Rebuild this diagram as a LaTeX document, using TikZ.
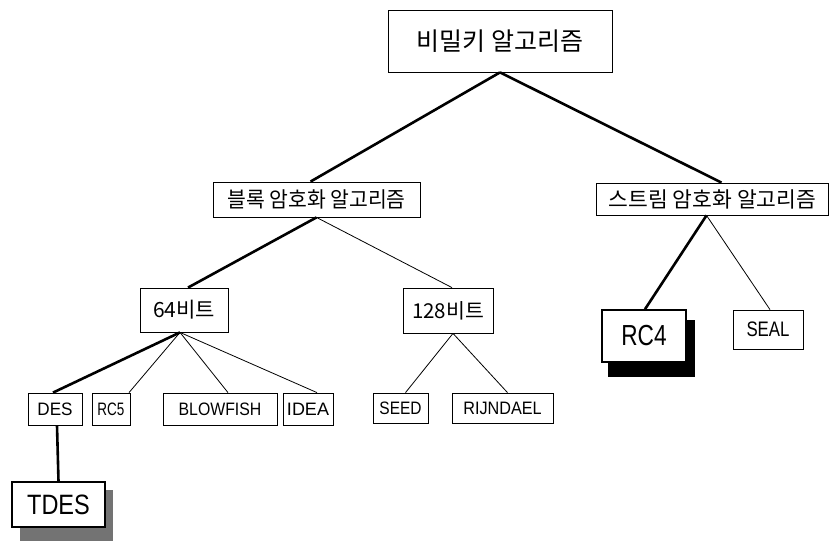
\documentclass[tikz,border=0pt]{standalone}
\usepackage{fontspec}
\newfontfamily\kr{Noto Sans CJK KR}
\newfontfamily\lat{Liberation Sans}
\newcommand\lt[3]{\scalebox{#1}[1]{\lat\fontsize{#2}{#2}\selectfont #3}}
\newcommand\kt[3]{\scalebox{#1}[1]{\kr\fontsize{#2}{#2}\selectfont #3}}
\begin{document}
\begin{tikzpicture}[x=1pt,y=-1pt,
  box/.style={draw=black,line width=0.8pt,inner sep=0pt,minimum width=#1,align=center},
  thick line/.style={line width=2.6pt},
  thin line/.style={line width=0.8pt}]
\useasboundingbox (0,0) rectangle (829,547);
% shadows
\fill[black] (608,320) rectangle (695,377);
\fill[black!55] (20,490) rectangle (113,541);
% nodes
\node[box=224pt,minimum height=62pt] (root) at (500,41) {\kt{1}{25}{비밀키 알고리즘}};
\node[box=207pt,minimum height=35pt] (block) at (316.5,199.5) {\kt{0.95}{21.5}{블록 암호화 알고리즘}};
\node[box=232pt,minimum height=32pt] (stream) at (712.5,199) {\kt{1}{21.5}{스트림 암호화 알고리즘}};
\node[box=88pt,minimum height=44pt] (b64) at (184,310) {\kt{1}{21}{64비트}};
\node[box=90pt,minimum height=45pt] (b128) at (448,310.5) {\kt{1}{20.5}{128비트}};
\node[box=54pt,minimum height=32pt] (des) at (55,409) {\lt{0.95}{18}{DES}};
\node[box=38pt,minimum height=32pt] (rc5) at (111,409) {\lt{0.75}{18}{RC5}};
\node[box=114pt,minimum height=32pt] (blowfish) at (220,409) {\lt{0.88}{18}{BLOWFISH}};
\node[box=50pt,minimum height=32pt] (idea) at (308,409) {\lt{1}{18}{IDEA}};
\node[box=55pt,minimum height=30pt] (seed) at (400.5,408) {\lt{0.86}{18}{SEED}};
\node[box=101pt,minimum height=30pt] (rijndael) at (502.5,408) {\lt{0.9}{18}{RIJNDAEL}};
\node[box=70pt,minimum height=39pt,fill=white] (seal) at (768,329.5) {\lt{0.8}{21}{SEAL}};
\node[box=84pt,minimum height=52pt,fill=white,line width=1.6pt] (rc4) at (644,336) {\lt{0.78}{29}{RC4}};
\node[box=93pt,minimum height=45pt,fill=white,line width=1.6pt] (tdes) at (58.5,504.5) {\lt{0.84}{28}{TDES}};
% connectors
\draw[thick line] (root.south) -- ([xshift=-6pt]block.north);
\draw[thick line] (root.south) -- ([xshift=9pt]stream.north);
\draw[thick line] (block.south) -- ([xshift=4pt]b64.north);
\draw[thin line] (block.south) -- ([xshift=4pt]b128.north);
\draw[thick line] ([xshift=-4pt]b64.south) -- ([xshift=-2pt]des.north);
\draw[thin line] ([xshift=-4pt]b64.south) -- ([xshift=18pt]rc5.north);
\draw[thin line] ([xshift=-4pt]b64.south) -- ([xshift=8pt]blowfish.north);
\draw[thin line] ([xshift=-4pt]b64.south) -- ([xshift=9pt]idea.north);
\draw[thin line] ([xshift=5pt]b128.south) -- ([xshift=5pt]seed.north);
\draw[thin line] ([xshift=5pt]b128.south) -- ([xshift=5pt]rijndael.north);
\draw[thick line] ([xshift=-6pt]stream.south) -- ([xshift=1pt]rc4.north);
\draw[thin line] ([xshift=-6pt]stream.south) -- ([xshift=2pt]seal.north);
\draw[thick line] ([xshift=2pt]des.south) -- ([xshift=0pt]tdes.north);
\end{tikzpicture}
\end{document}
